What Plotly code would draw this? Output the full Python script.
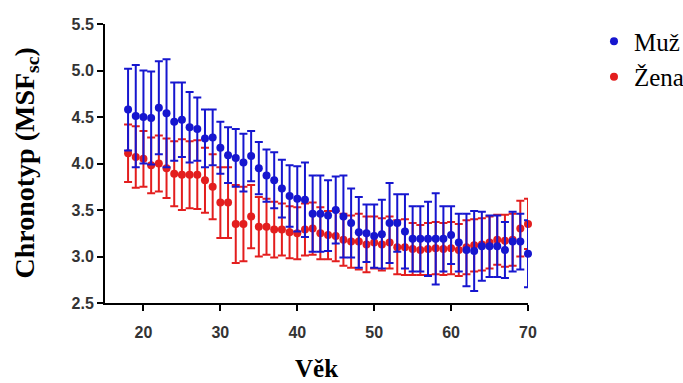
import plotly.graph_objects as go

ages = list(range(18, 71))

muz_mean = [4.58, 4.51, 4.50, 4.49, 4.60, 4.54, 4.45, 4.47, 4.39, 4.37,
            4.27, 4.28, 4.17, 4.09, 4.06, 4.01, 4.08, 3.95, 3.87, 3.82,
            3.73, 3.65, 3.62, 3.61, 3.46, 3.46, 3.44, 3.50, 3.43, 3.36,
            3.26, 3.25, 3.22, 3.24, 3.36, 3.36, 3.27, 3.19, 3.19, 3.19,
            3.19, 3.19, 3.23, 3.15, 3.07, 3.06, 3.11, 3.11, 3.11, 3.07,
            3.16, 3.16, 3.03]
muz_err = [0.44, 0.55, 0.50, 0.50, 0.50, 0.58, 0.42, 0.40, 0.38, 0.34,
           0.31, 0.30, 0.28, 0.30, 0.31, 0.31, 0.27, 0.28, 0.28, 0.30,
           0.31, 0.33, 0.35, 0.40, 0.41, 0.41, 0.38, 0.36, 0.44, 0.37,
           0.38, 0.31, 0.34, 0.37, 0.43, 0.31, 0.40, 0.35, 0.35, 0.40,
           0.49, 0.35, 0.31, 0.31, 0.39, 0.43, 0.37, 0.33, 0.33, 0.30,
           0.32, 0.30, 0.36]

zena_mean = [4.11, 4.07, 4.05, 3.98, 4.00, 3.95, 3.89, 3.88, 3.88, 3.88,
             3.82, 3.75, 3.58, 3.58, 3.35, 3.35, 3.43, 3.32, 3.32, 3.29,
             3.29, 3.26, 3.25, 3.29, 3.30, 3.25, 3.23, 3.22, 3.18, 3.16,
             3.16, 3.13, 3.15, 3.13, 3.15, 3.10, 3.10, 3.08, 3.07, 3.08,
             3.09, 3.08, 3.09, 3.07, 3.10, 3.12, 3.13, 3.15, 3.18, 3.17,
             3.18, 3.30, 3.35]
zena_err = [0.31, 0.33, 0.30, 0.30, 0.30, 0.32, 0.35, 0.38, 0.36, 0.37,
            0.35, 0.35, 0.38, 0.38, 0.42, 0.40, 0.34, 0.32, 0.30, 0.30,
            0.28, 0.28, 0.28, 0.28, 0.28, 0.28, 0.26, 0.27, 0.28, 0.28,
            0.30, 0.30, 0.28, 0.28, 0.28, 0.29, 0.30, 0.28, 0.27, 0.28,
            0.28, 0.28, 0.28, 0.28, 0.29, 0.28, 0.28, 0.28, 0.27, 0.28,
            0.28, 0.30, 0.27]

BLUE = "#1616CF"
RED = "#E31E1E"

fig = go.Figure()
fig.add_trace(go.Scatter(
    x=ages, y=zena_mean, mode="markers", name="Žena", legendrank=2,
    marker=dict(color=RED, size=8),
    error_y=dict(type="data", array=zena_err, color=RED, thickness=2, width=4),
    cliponaxis=False,
))
fig.add_trace(go.Scatter(
    x=ages, y=muz_mean, mode="markers", name="Muž", legendrank=1,
    marker=dict(color=BLUE, size=8),
    error_y=dict(type="data", array=muz_err, color=BLUE, thickness=2, width=4),
    cliponaxis=False,
))

tickfont = dict(family="Liberation Sans, Arial", size=16, color="#333333", weight="bold")
serif = "Liberation Serif, Times New Roman"

fig.update_layout(
    width=683, height=383,
    margin=dict(l=105, r=155, t=24, b=80, autoexpand=False),
    paper_bgcolor="white", plot_bgcolor="white",
    showlegend=True,
    legend=dict(x=1.156, y=1.02, xanchor="left", yanchor="top",
                font=dict(family=serif, size=25, color="black"),
                tracegroupgap=0, itemsizing="trace"),
    xaxis=dict(range=[15, 70], tickvals=[20, 30, 40, 50, 60, 70],
               showline=True, linecolor="black", linewidth=2,
               ticks="outside", ticklen=6, tickwidth=2, tickcolor="black",
               showgrid=False, zeroline=False, tickfont=tickfont,
               ticklabelstandoff=8),
    yaxis=dict(range=[2.5, 5.5], tickvals=[2.5, 3.0, 3.5, 4.0, 4.5, 5.0, 5.5],
               tickformat=".1f",
               showline=True, linecolor="black", linewidth=2,
               ticks="outside", ticklen=6, tickwidth=2, tickcolor="black",
               showgrid=False, zeroline=False, tickfont=tickfont),
    annotations=[
        dict(text="Chronotyp (MSF<sub>sc</sub>)", textangle=-90,
             xref="paper", yref="paper", x=0, y=0.5, xanchor="center", yanchor="middle",
             xshift=-79, showarrow=False,
             font=dict(family=serif, size=28, color="black", weight="bold")),
        dict(text="Věk", xref="paper", yref="paper", x=0.5, y=0, xanchor="center", yanchor="middle",
             yshift=-65, showarrow=False,
             font=dict(family=serif, size=25, color="black", weight="bold")),
    ],
)

fig.write_html("out.html")
